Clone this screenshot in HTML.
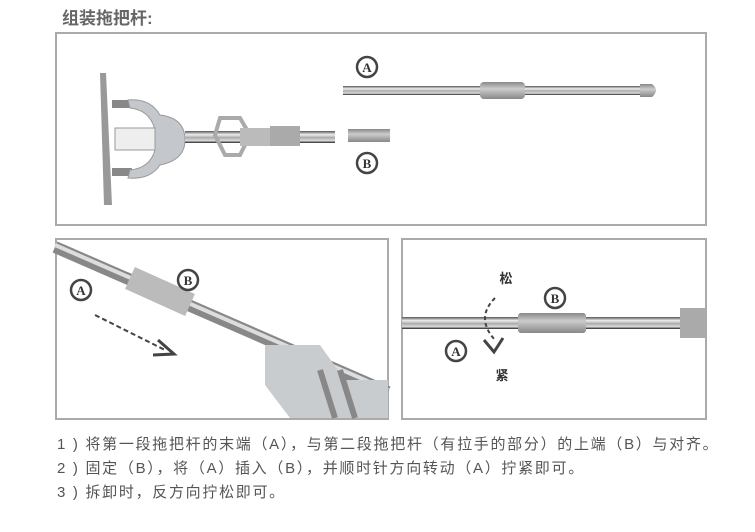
<!DOCTYPE html>
<html><head><meta charset="utf-8"><style>
body{margin:0;background:#fff;width:755px;height:532px;overflow:hidden;font-family:"Liberation Sans","Noto Sans CJK SC",sans-serif}
svg{position:absolute;left:0;top:0}
.t{position:absolute;left:57px;font-size:15px;color:#555;white-space:nowrap;letter-spacing:1.7px}
</style></head><body>
<svg width="755" height="532">
<defs>
<linearGradient id="steel" x1="0" y1="0" x2="0" y2="1">
<stop offset="0" stop-color="#555"/><stop offset="0.3" stop-color="#eee"/><stop offset="0.55" stop-color="#aaa"/><stop offset="0.8" stop-color="#ddd"/><stop offset="1" stop-color="#222"/></linearGradient>
<linearGradient id="grey" x1="0" y1="0" x2="0" y2="1">
<stop offset="0" stop-color="#888"/><stop offset="0.4" stop-color="#ccc"/><stop offset="1" stop-color="#888"/></linearGradient>
</defs>
<text x="62" y="24" font-size="17" font-weight="bold" fill="#666" font-family="Liberation Sans,Noto Sans CJK SC,sans-serif">组装拖把杆:</text>
<rect x="56" y="33" width="650" height="192" fill="#fff" stroke="#aaa" stroke-width="2"/>
<rect x="56" y="239" width="332" height="180" fill="#fff" stroke="#aaa" stroke-width="2"/>
<rect x="402" y="239" width="304" height="180" fill="#fff" stroke="#aaa" stroke-width="2"/>
<rect x="343" y="86" width="300" height="9" fill="url(#steel)"/>
<rect x="480" y="82" width="45" height="17" rx="4" fill="url(#grey)"/>
<path d="M640 84 L652 84 Q660 90 652 97 L640 97Z" fill="url(#grey)"/>
<circle cx="367" cy="67" r="10" fill="none" stroke="#444" stroke-width="2.5"/>
<text x="367" y="72" font-size="13" font-weight="bold" text-anchor="middle" fill="#333" font-family="Liberation Serif,serif">A</text>
<circle cx="367" cy="163" r="10" fill="none" stroke="#444" stroke-width="2.5"/>
<text x="367" y="168" font-size="13" font-weight="bold" text-anchor="middle" fill="#333" font-family="Liberation Serif,serif">B</text>
<path d="M100 73 L106 73 L112 205 L104 205Z" fill="#999"/>
<rect x="112" y="100" width="20" height="8" fill="#888"/>
<rect x="112" y="168" width="20" height="8" fill="#888"/>
<path d="M128 100 Q150 98 160 115 Q185 118 185 140 Q185 160 160 165 Q150 180 128 178 L130 170 Q150 168 155 150 L155 130 Q150 110 130 108Z" fill="#c4c8cc" stroke="#999"/>
<rect x="115" y="128" width="40" height="22" fill="#eee" stroke="#999"/>
<rect x="185" y="131" width="150" height="12" fill="url(#steel)"/>
<path d="M220 118 L240 118 L250 135 L240 155 L225 155 L215 135Z" fill="none" stroke="#aaa" stroke-width="4"/>
<rect x="240" y="128" width="30" height="18" fill="#bbb"/>
<rect x="270" y="126" width="30" height="20" fill="#aaa"/>
<rect x="348" y="129" width="42" height="13" fill="url(#grey)"/>
<line x1="55" y1="247" x2="388" y2="392" stroke="#888" stroke-width="12"/>
<line x1="55" y1="245" x2="388" y2="390" stroke="#ddd" stroke-width="4"/>
<line x1="130" y1="278" x2="190" y2="305" stroke="#bbb" stroke-width="24"/>
<path d="M265 345 L320 345 L345 380 L388 380 L388 418 L290 418 L265 385Z" fill="#c8cccf"/>
<path d="M320 370 L335 418 M340 370 L355 418" stroke="#888" stroke-width="6"/>
<circle cx="81" cy="290" r="10" fill="none" stroke="#444" stroke-width="2.5"/>
<text x="81" y="295" font-size="13" font-weight="bold" text-anchor="middle" fill="#333" font-family="Liberation Serif,serif">A</text>
<circle cx="188" cy="280" r="10" fill="none" stroke="#444" stroke-width="2.5"/>
<text x="188" y="285" font-size="13" font-weight="bold" text-anchor="middle" fill="#333" font-family="Liberation Serif,serif">B</text>
<line x1="95" y1="315" x2="165" y2="350" stroke="#444" stroke-width="2" stroke-dasharray="5,3"/>
<path d="M158 340 L174 354 L153 355" fill="none" stroke="#444" stroke-width="3"/>
<rect x="402" y="317" width="304" height="12" fill="url(#steel)"/>
<rect x="518" y="313" width="68" height="20" rx="3" fill="url(#grey)"/>
<rect x="680" y="308" width="26" height="30" fill="#aaa"/>
<path d="M495 298 Q475 318 495 340" fill="none" stroke="#444" stroke-width="2" stroke-dasharray="4,3"/>
<path d="M484 340 L494 352 L503 338" fill="none" stroke="#444" stroke-width="3"/>
<text x="506" y="283" font-size="13" font-weight="bold" text-anchor="middle" fill="#333" font-family="Noto Sans CJK SC,sans-serif">松</text>
<text x="502" y="380" font-size="13" font-weight="bold" text-anchor="middle" fill="#333" font-family="Noto Sans CJK SC,sans-serif">紧</text>
<circle cx="555" cy="298" r="10" fill="none" stroke="#444" stroke-width="2.5"/>
<text x="555" y="303" font-size="13" font-weight="bold" text-anchor="middle" fill="#333" font-family="Liberation Serif,serif">B</text>
<circle cx="456" cy="351" r="10" fill="none" stroke="#444" stroke-width="2.5"/>
<text x="456" y="356" font-size="13" font-weight="bold" text-anchor="middle" fill="#333" font-family="Liberation Serif,serif">A</text>
</svg>
<div class="t" style="top:433px">1 ) 将第一段拖把杆的末端（A），与第二段拖把杆（有拉手的部分）的上端（B）与对齐。</div>
<div class="t" style="top:457px">2 ) 固定（B），将（A）插入（B），并顺时针方向转动（A）拧紧即可。</div>
<div class="t" style="top:481px">3 ) 拆卸时，反方向拧松即可。</div>
</body></html>
